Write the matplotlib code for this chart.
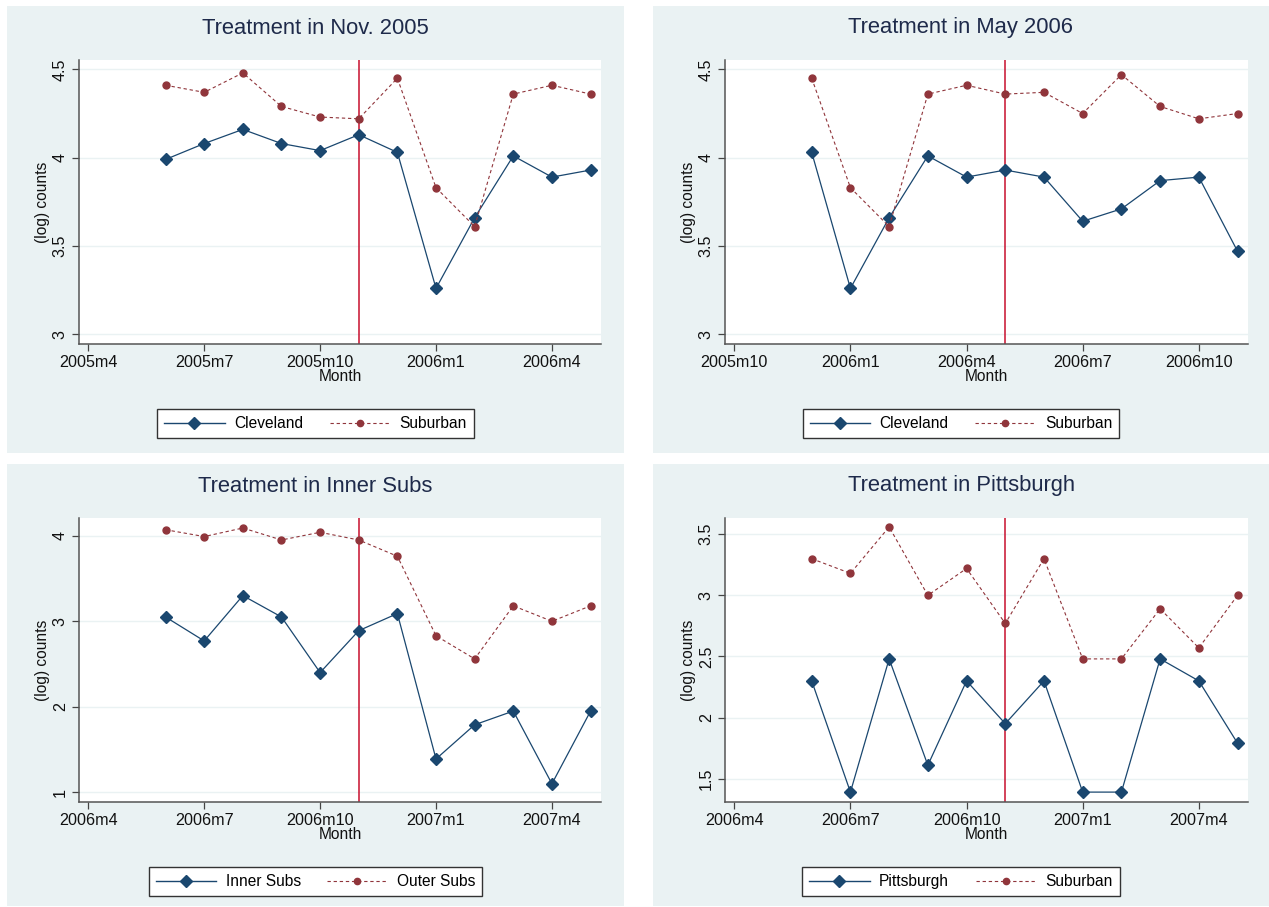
import matplotlib
matplotlib.use("Agg")
import matplotlib.pyplot as plt
from matplotlib.patches import Rectangle
from matplotlib.lines import Line2D

plt.rcParams['font.family'] = ['Liberation Sans', 'DejaVu Sans']

W, H = 1269, 907

NAVY = '#1a476f'
MAROON = '#90353b'
BG = '#eaf2f3'
RED = '#c8102e'
TITLE_C = '#1e2a4a'


def month_num(s):
    # "2005m6" -> months counted from year 0
    y, m = s.split('m')
    return int(y) * 12 + int(m) - 1


def month_str(n):
    return f'{n // 12}m{n % 12 + 1}'


def month_run(start, count):
    s = month_num(start)
    return [month_str(s + i) for i in range(count)]


# ---- data: (log) counts ----
months_nov05 = month_run('2005m6', 12)
cleveland_nov05 = [3.99, 4.08, 4.16, 4.08, 4.04, 4.13, 4.03, 3.26, 3.66, 4.01, 3.89, 3.93]
suburban_nov05 = [4.41, 4.37, 4.48, 4.29, 4.23, 4.22, 4.45, 3.83, 3.61, 4.36, 4.41, 4.36]

months_may06 = month_run('2005m12', 12)
cleveland_may06 = [4.03, 3.26, 3.66, 4.01, 3.89, 3.93, 3.89, 3.64, 3.71, 3.87, 3.89, 3.47]
suburban_may06 = [4.45, 3.83, 3.61, 4.36, 4.41, 4.36, 4.37, 4.25, 4.47, 4.29, 4.22, 4.25]

months_inner = month_run('2006m6', 12)
inner_subs = [3.05, 2.77, 3.30, 3.05, 2.40, 2.89, 3.09, 1.39, 1.79, 1.95, 1.10, 1.95]
outer_subs = [4.07, 3.99, 4.09, 3.95, 4.04, 3.95, 3.76, 2.83, 2.56, 3.18, 3.00, 3.18]

months_pitt = month_run('2006m6', 12)
pittsburgh = [2.30, 1.39, 2.48, 1.61, 2.30, 1.95, 2.30, 1.39, 1.39, 2.48, 2.30, 1.79]
suburban_pitt = [3.30, 3.18, 3.56, 3.00, 3.22, 2.77, 3.30, 2.48, 2.48, 2.89, 2.57, 3.00]

panels = [
    dict(title='Treatment in Nov. 2005', months=months_nov05,
         a=cleveland_nov05, b=suburban_nov05, labels=['Cleveland', 'Suburban'],
         xticks=['2005m4', '2005m7', '2005m10', '2006m1', '2006m4'], treat='2005m11',
         yticks=[3, 3.5, 4, 4.5], ylabels=['3', '3.5', '4', '4.5'], ylim=(2.945, 4.553)),
    dict(title='Treatment in May 2006', months=months_may06,
         a=cleveland_may06, b=suburban_may06, labels=['Cleveland', 'Suburban'],
         xticks=['2005m10', '2006m1', '2006m4', '2006m7', '2006m10'], treat='2006m5',
         yticks=[3, 3.5, 4, 4.5], ylabels=['3', '3.5', '4', '4.5'], ylim=(2.945, 4.553)),
    dict(title='Treatment in Inner Subs', months=months_inner,
         a=inner_subs, b=outer_subs, labels=['Inner Subs', 'Outer Subs'],
         xticks=['2006m4', '2006m7', '2006m10', '2007m1', '2007m4'], treat='2006m11',
         yticks=[1, 2, 3, 4], ylabels=['1', '2', '3', '4'], ylim=(0.887, 4.207)),
    dict(title='Treatment in Pittsburgh', months=months_pitt,
         a=pittsburgh, b=suburban_pitt, labels=['Pittsburgh', 'Suburban'],
         xticks=['2006m4', '2006m7', '2006m10', '2007m1', '2007m4'], treat='2006m11',
         yticks=[1.5, 2, 2.5, 3, 3.5], ylabels=['1.5', '2', '2.5', '3', '3.5'], ylim=(1.309, 3.633)),
]

# pixel layout: panel box, plot box
boxes = [
    ((7, 6, 624, 453), (79, 60, 601, 344)),
    ((653, 6, 1269, 453), (725, 60, 1248, 344)),
    ((7, 464, 624, 906), (79, 518, 601, 802)),
    ((653, 464, 1269, 906), (725, 518, 1248, 802)),
]


def frect(x0, y0, x1, y1):
    return [x0 / W, 1 - y1 / H, (x1 - x0) / W, (y1 - y0) / H]


fig = plt.figure(figsize=(W / 100, H / 100), dpi=100)
fig.patch.set_facecolor('white')

for p, (pbox, abox) in zip(panels, boxes):
    px0, py0, px1, py1 = pbox
    fig.patches.append(Rectangle((px0 / W, 1 - py1 / H), (px1 - px0) / W, (py1 - py0) / H,
                                 transform=fig.transFigure, facecolor=BG, edgecolor='none', zorder=-5))
    pcx = (px0 + px1) / 2
    fig.text(pcx / W, 1 - (py0 + 22) / H, p['title'], ha='center', va='center',
             fontsize=15.8, color=TITLE_C)

    ax = fig.add_axes(frect(*abox))
    ax.set_zorder(1)
    ax.set_facecolor('white')
    x = [month_num(m) for m in p['months']]
    t0 = month_num(p['xticks'][0])
    ax.set_xlim(t0 - 0.24, t0 + 13.27)
    ax.set_ylim(*p['ylim'])

    ax.set_yticks(p['yticks'])
    ax.set_yticklabels(p['ylabels'], rotation=90, va='center')
    ax.set_xticks([month_num(m) for m in p['xticks']])
    ax.set_xticklabels(p['xticks'])
    ax.tick_params(axis='both', labelsize=11.6, color='#444444', length=5, width=0.9,
                   labelcolor='#111111')
    ax.tick_params(axis='y', pad=3)
    ax.tick_params(axis='x', pad=3)
    ax.grid(axis='y', color=BG, linewidth=1.0)
    ax.set_axisbelow(True)
    for side in ['top', 'right']:
        ax.spines[side].set_visible(False)
    for side in ['left', 'bottom']:
        ax.spines[side].set_color('#555555')
        ax.spines[side].set_linewidth(1.1)

    ax.axvline(month_num(p['treat']), color=RED, linewidth=1.1, zorder=1)
    ax.plot(x, p['a'], color=NAVY, linewidth=0.9, marker='D', markersize=6.5,
            markerfacecolor=NAVY, markeredgecolor=NAVY, zorder=3)
    ax.plot(x, p['b'], color=MAROON, linewidth=0.8, linestyle=(0, (3, 2.5)), marker='o',
            markersize=5, markerfacecolor=MAROON, markeredgecolor=MAROON, zorder=3)

    ax.set_ylabel('(log) counts', fontsize=11.2, color='#111111', labelpad=2)
    ax.set_xlabel('Month', fontsize=11.2, color='#111111', labelpad=-1)

    handles = [
        Line2D([], [], color=NAVY, linewidth=1.0, marker='D', markersize=6),
        Line2D([], [], color=MAROON, linewidth=0.8, linestyle=(0, (3, 2.5)), marker='o', markersize=4.5),
    ]
    fig.legend(handles, p['labels'], loc='center', ncol=2,
               bbox_to_anchor=(pcx / W, 1 - (py0 + 417.5) / H),
               fontsize=11.2, frameon=True, fancybox=False, edgecolor='#333333',
               facecolor='white', framealpha=1, handlelength=3.9, handletextpad=0.6,
               columnspacing=1.7, borderpad=0.45)

fig.savefig('out.png', dpi=100)
